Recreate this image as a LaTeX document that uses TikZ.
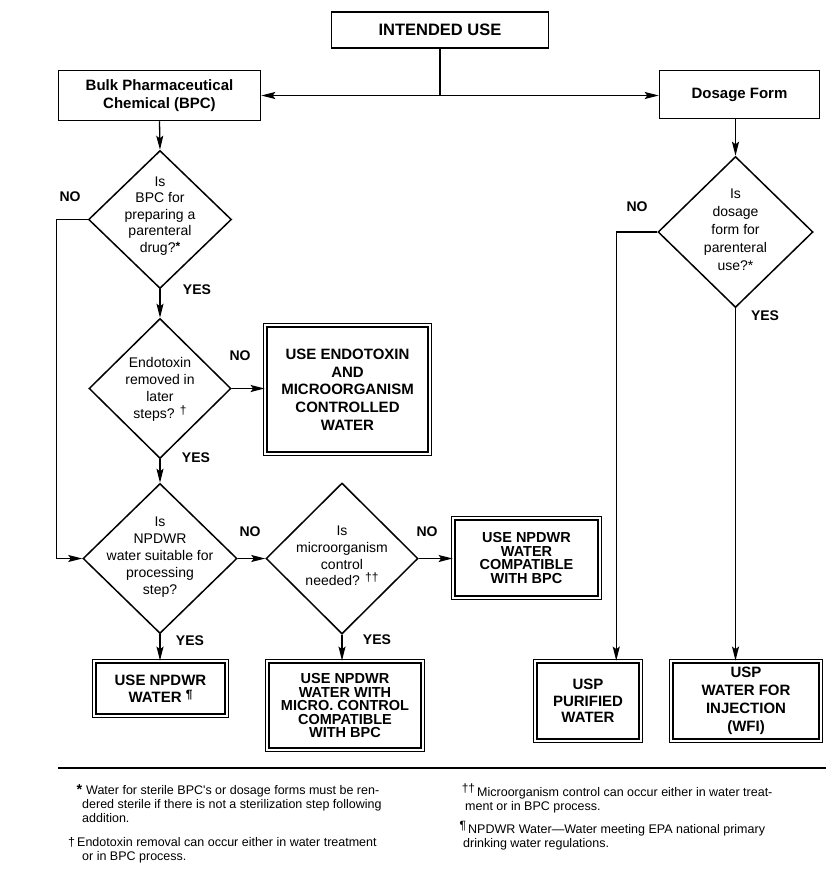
\documentclass[tikz,border=0pt]{standalone}
\usepackage{fontspec}
\setmainfont{Liberation Sans}
\newfontfamily\notefont{Liberation Sans}[FakeStretch=1.0]
\usetikzlibrary{shapes.geometric,arrows.meta}

\newcommand{\refsign}[1]{{\fontsize{12}{12}\selectfont\raisebox{4pt}{#1}}}

\begin{document}
\begin{tikzpicture}[x=1pt,y=-1pt,
  box/.style={draw, line width=1.5pt, align=center, inner sep=0pt, font=\bfseries\fontsize{15}{18}\selectfont},
  waterbox/.style={draw, line width=1.4pt, double distance=1.8pt, align=center, inner sep=0pt},
  ask/.style={draw, shape=diamond, line width=1.5pt, inner sep=0pt},
  asktext/.style={align=center, inner sep=0pt},
  answer/.style={inner sep=0pt, font=\bfseries\fontsize{14}{16}\selectfont},
  arr/.style={line width=1.3pt, -{Stealth[length=14pt,width=7pt,inset=2.5pt]}},
  note/.style={anchor=north west, align=left, inner sep=0pt, font=\notefont\fontsize{12.5}{14}\selectfont}]
\useasboundingbox (0,0) rectangle (828,881);

% top boxes
\node[box, minimum width=217pt, minimum height=36pt, font=\bfseries\fontsize{16.5}{20}\selectfont] (use) at (440,30) {INTENDED USE};
\node[box, minimum width=202pt, minimum height=50pt] (bpc) at (159.5,95.5) {Bulk Pharmaceutical\\Chemical (BPC)};
\node[box, minimum width=160pt, minimum height=48pt] (dose) at (739.5,94.5) {Dosage Form};

% questions
\node[ask, minimum width=143pt, minimum height=138pt] (d1) at (160,219.5) {};
\node[asktext, font=\fontsize{14}{16.5}\selectfont] (t1) at (160,216) {Is\\BPC for\\preparing a\\parenteral\\drug?\raisebox{2pt}{\bfseries\large *}};
\node[ask, minimum width=142pt, minimum height=140pt] (d2) at (160,388.5) {};
\node[asktext, font=\fontsize{14}{17}\selectfont] (t2) at (160,389) {Endotoxin\\removed in\\later\\steps? \refsign{†}};
\node[ask, minimum width=154pt, minimum height=150pt] (d3) at (160,558.5) {};
\node[asktext, font=\fontsize{14}{17}\selectfont] (t3) at (160,557) {Is\\NPDWR\\water suitable for\\processing\\step?};
\node[ask, minimum width=152pt, minimum height=151pt] (d4) at (342,558.5) {};
\node[asktext, font=\fontsize{14}{16.7}\selectfont] (t4) at (342,556) {Is\\microorganism\\control\\needed? \refsign{††}};
\node[ask, minimum width=155pt, minimum height=151pt] (d5) at (735.5,232) {};
\node[asktext, font=\fontsize{14}{18}\selectfont] (t5) at (735.5,230) {Is\\dosage\\form for\\parenteral\\use?*};

% water boxes
\node[waterbox, minimum width=164.4pt, minimum height=128.4pt, font=\bfseries\fontsize{15}{17.7}\selectfont] (endo) at (347.5,389.5) {USE ENDOTOXIN\\AND\\MICROORGANISM\\CONTROLLED\\WATER};
\node[waterbox, minimum width=146.4pt, minimum height=79.4pt, font=\bfseries\fontsize{14.5}{13.7}\selectfont] (compat) at (526.5,558) {USE NPDWR\\WATER\\COMPATIBLE\\WITH BPC};
\node[waterbox, minimum width=132.4pt, minimum height=54.4pt, font=\bfseries\fontsize{15}{17}\selectfont] (npdwr) at (160.5,688.5) {USE NPDWR\\WATER \refsign{¶}};
\node[waterbox, minimum width=155.4pt, minimum height=88.4pt, font=\bfseries\fontsize{14.5}{13.5}\selectfont] (micro) at (345,705.5) {USE NPDWR\\WATER WITH\\MICRO. CONTROL\\COMPATIBLE\\WITH BPC};
\node[waterbox, minimum width=105.4pt, minimum height=79.4pt, font=\bfseries\fontsize{15}{16.5}\selectfont] (pur) at (588,701) {USP\\PURIFIED\\WATER};
\node[waterbox, minimum width=149.4pt, minimum height=79.4pt, font=\bfseries\fontsize{15}{18}\selectfont] (wfi) at (746,701) {USP\\WATER FOR\\INJECTION\\(WFI)};

% answers
\node[answer] (no1) at (70,197) {NO};
\node[answer] (yes1) at (197,290) {YES};
\node[answer] (no2) at (240,356) {NO};
\node[answer] (yes2) at (196,458) {YES};
\node[answer] (no3) at (250,532) {NO};
\node[answer] (yes3) at (190,641) {YES};
\node[answer] (no4) at (427,532) {NO};
\node[answer] (yes4) at (377,640) {YES};
\node[answer] (no5) at (637,207) {NO};
\node[answer] (yes5) at (765,316) {YES};

% connectors
\draw[line width=1.3pt] (use.south) -- (use.south |- bpc.east) coordinate (j);
\draw[arr] (j) -- (bpc.east);
\draw[arr] (j) -- (j -| dose.west);
\draw[arr] (bpc.south) -- (d1.north);
\draw[arr] (d1.south) -- (d2.north);
\draw[arr] (d1.west) -- ++(-31,0) |- (d3.west);
\draw[arr] (d2.east) -- (d2.east -| endo.west);
\draw[arr] (d2.south) -- (d3.north);
\draw[arr] (d3.east) -- (d4.west);
\draw[arr] (d4.east) -- (d4.east -| compat.west);
\draw[arr] (d3.south) -- (d3.south |- npdwr.north);
\draw[arr] (d4.south) -- (d4.south |- micro.north);
\draw[arr] (d5.north |- dose.south) -- (d5.north);
\draw[arr] (d5.west) -- ++(-41,0) coordinate (k) -- (k |- pur.north);
\draw[arr] (d5.south) -- (d5.south |- wfi.north);

% footnotes
\draw[line width=1.4pt] (58,768) -- (826,768);
\node[note] (fn1) at (82,784) {\hspace*{4pt}\llap{\bfseries\Large *\hspace{4pt}}Water for sterile BPC's or dosage forms must be ren-\\dered sterile if there is not a sterilization step following\\addition.};
\node[note] (fn2) at (82,837) {\hspace*{-5pt}\llap{†\,}Endotoxin removal can occur either in water treatment\\or in BPC process.};
\node[note] (fn3) at (465,784) {\hspace*{12pt}\llap{\refsign{††}\,}Microorganism control can occur either in water treat-\\ment or in BPC process.};
\node[note] (fn4) at (463,821) {\hspace*{5pt}\llap{\refsign{¶}\,}NPDWR Water—Water meeting EPA national primary\\drinking water regulations.};
\end{tikzpicture}
\end{document}
